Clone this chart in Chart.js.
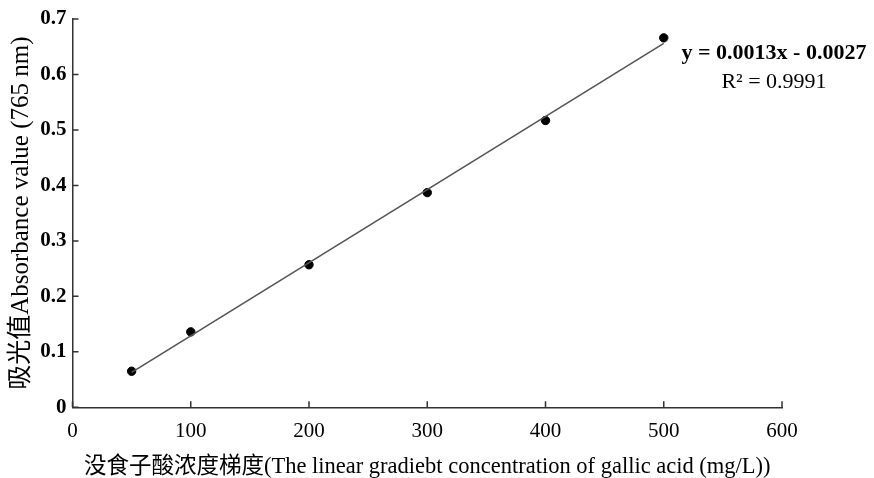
<!DOCTYPE html>
<html>
<head>
<meta charset="utf-8">
<script src="https://cdn.jsdelivr.net/npm/chart.js@4"></script>
<style>
  html, body { margin: 0; padding: 0; background: #fff; }
  #wrap { width: 874px; height: 478px; }
</style>
</head>
<body>
<div id="wrap"><canvas id="stdCurve"></canvas></div>
<script>
// Gallic acid standard curve
const concentration = [50, 100, 200, 300, 400, 500];              // mg/L
const absorbance = [0.065, 0.136, 0.257, 0.387, 0.517, 0.666];     // 765 nm
const trendX = [50, 500];
const trendY = [0.063, 0.656];
const xTicks = [0, 100, 200, 300, 400, 500, 600];
const yTicks = [0, 0.1, 0.2, 0.3, 0.4, 0.5, 0.6, 0.7];
const equationText = 'y = 0.0013x - 0.0027';
const r2Text = 'R\u00b2 = 0.9991';

const FONT = '"Liberation Serif", "Noto Sans CJK SC", serif';
const AXIS = '#333';

// inward tick marks (the scan has ticks pointing into the plot)
const innerTicks = {
    id: 'innerTicks',
    afterDraw(chart) {
        const { ctx, scales: { x, y } } = chart;
        ctx.save();
        ctx.strokeStyle = AXIS;
        ctx.lineWidth = 1.5;
        ctx.beginPath();
        xTicks.forEach(v => {
            const px = x.getPixelForValue(v);
            ctx.moveTo(px, y.bottom);
            ctx.lineTo(px, y.bottom - 6);
        });
        yTicks.forEach(v => {
            const py = y.getPixelForValue(v);
            ctx.moveTo(x.left, py);
            ctx.lineTo(x.left + 6, py);
        });
        ctx.stroke();

        // regression equation
        ctx.fillStyle = '#000';
        ctx.textAlign = 'center';
        ctx.textBaseline = 'middle';
        const cx = chart.chartArea.right - 8;
        ctx.font = 'bold 22px ' + FONT;
        ctx.fillText(equationText, cx, 53);
        ctx.font = '22px ' + FONT;
        ctx.fillText(r2Text, cx, 82);
        ctx.restore();
    }
};

new Chart(document.getElementById('stdCurve'), {
    type: 'scatter',
    data: {
        datasets: [
            {
                label: 'trend',
                type: 'line',
                data: trendX.map((v, i) => ({ x: v, y: trendY[i] })),
                borderColor: '#555',
                borderWidth: 1.6,
                pointRadius: 0,
                fill: false
            },
            {
                label: 'absorbance',
                data: concentration.map((v, i) => ({ x: v, y: absorbance[i] })),
                backgroundColor: '#000',
                borderColor: '#000',
                pointRadius: 4.2
            }
        ]
    },
    options: {
        responsive: true,
        maintainAspectRatio: false,
        animation: false,
        layout: { padding: { left: 0, right: 92, top: 19, bottom: 0 } },
        plugins: {
            legend: { display: false },
            tooltip: { enabled: false }
        },
        scales: {
            x: {
                type: 'linear',
                min: 0,
                max: 600,
                afterBuildTicks: s => { s.ticks = xTicks.map(v => ({ value: v })); },
                afterFit: s => { s.height = 70.7; },
                grid: { display: true, drawOnChartArea: false, drawTicks: false },
                border: { color: AXIS, width: 1.5 },
                ticks: {
                    padding: 11.5,
                    color: '#000',
                    font: { family: FONT, size: 21 },
                    maxRotation: 0
                },
                title: {
                    display: true,
                    text: '没食子酸浓度梯度(The linear gradiebt concentration of gallic acid (mg/L))',
                    color: '#000',
                    font: { family: FONT, size: 22.5 },
                    padding: { top: 0, bottom: -3 }
                }
            },
            y: {
                min: 0,
                max: 0.7,
                afterBuildTicks: s => { s.ticks = yTicks.map(v => ({ value: v })); },
                afterFit: s => { s.width = 72.5; },
                grid: { display: true, drawOnChartArea: false, drawTicks: false },
                border: { color: AXIS, width: 1.5 },
                ticks: {
                    padding: 6,
                    color: '#000',
                    font: { family: FONT, size: 21, weight: 'bold' },
                    callback: v => String(Math.round(v * 10) / 10)
                },
                title: {
                    display: true,
                    text: '吸光值Absorbance value (765 nm)',
                    color: '#000',
                    font: { family: FONT, size: 25 },
                    padding: { top: 6, bottom: 0 }
                }
            }
        }
    },
    plugins: [innerTicks]
});
</script>
</body>
</html>
